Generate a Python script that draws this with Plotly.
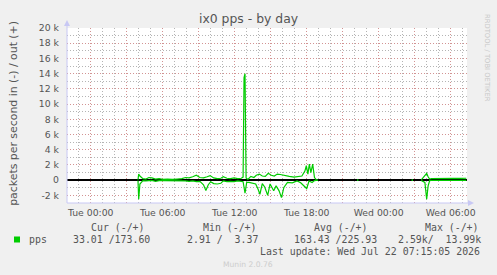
import plotly.graph_objects as go

# ---------------- data (hours relative to Tue 00:00) ----------------
x_range = [-1.975, 31.36]

t_out = [3.94, 4.00, 4.10, 4.35, 4.60, 4.85, 5.10, 5.40, 5.70, 6.00,
         6.40, 6.80, 7.20, 7.60, 7.90, 8.20, 8.50, 8.80, 9.10, 9.40,
         9.70, 9.95, 10.25, 10.55, 10.85, 11.05, 11.35, 11.65, 11.95, 12.25,
         12.55, 12.70, 12.78, 12.86, 12.95, 13.10, 13.35, 13.60, 13.80, 14.05,
         14.30, 14.55, 14.80, 15.05, 15.30, 15.55, 15.80, 16.15, 16.55, 16.95,
         17.35, 17.60, 17.85, 17.97, 18.10, 18.22, 18.35, 18.50, 18.65, 18.80,
         18.95, 19.00, 22.20, 22.30, 22.35, 26.75, 26.85, 26.90, 27.55, 27.70,
         27.85, 28.00, 28.12, 28.25, 28.40, 29.00, 29.60, 30.20, 30.80, 31.30]
out_pps = [50, 800, 550, 200, 150, 350, 300, 150, 200, 100,
           150, 100, 150, 200, 350, 300, 450, 650, 350, 300,
           450, 600, 300, 200, 250, 450, 250, 200, 300, 200,
           250, 400, 13500, 13990, 300, 100, 500, 350, 650, 800,
           550, 500, 900, 650, 550, 800, 750, 600, 500, 400,
           500, 550, 1200, 1900, 800, 2100, 1000, 2100, 350, 50,
           20, None, 50, 50, None, 50, 50, None, 50, 300,
           650, 900, 450, 150, 220, 250, 220, 250, 230, 250]

t_in = [3.94, 4.00, 4.10, 4.35, 4.60, 4.85, 5.10, 5.40, 5.70, 6.00,
        6.50, 7.00, 7.60, 7.90, 8.20, 8.50, 8.80, 9.10, 9.40, 9.60,
        9.80, 10.00, 10.25, 10.55, 10.85, 11.05, 11.35, 11.65, 11.95, 12.25,
        12.55, 12.70, 12.86, 13.00, 13.20, 13.50, 13.75, 13.95, 14.10, 14.30,
        14.50, 14.75, 14.95, 15.25, 15.45, 15.70, 15.90, 16.10, 16.40, 16.80,
        17.20, 17.50, 17.75, 18.00, 18.20, 18.45, 18.65, 18.95, 19.00,
        22.20, 22.30, 22.35, 26.75, 26.85, 26.90,
        27.55, 27.85, 28.00, 28.12, 28.25, 28.40, 29.50, 30.50, 31.30]
in_pps = [50, 2500, 500, 50, 100, 100, 20, 150, 50, 50,
          40, 50, 60, 100, 150, 100, 200, 150, 600, 1350,
          600, 200, 450, 500, 400, 100, 200, 150, 200, 100,
          150, 200, 1700, 300, 300, 400, 500, 1200, 1850, 450,
          900, 2000, 500, 1400, 750, 1400, 2300, 950, 300, 350,
          100, 350, 750, 1100, 100, 300, 50, 10, None,
          20, 20, None, 20, 20, None,
          50, 300, 2500, 750, 50, 20, 20, 20, 20]

y_tick_vals = [-2000, 0, 2000, 4000, 6000, 8000, 10000, 12000, 14000, 16000, 18000, 20000]
y_tick_text = ["-2 k", "0", "2 k", "4 k", "6 k", "8 k", "10 k", "12 k", "14 k", "16 k", "18 k", "20 k"]
x_tick_vals = [0, 3, 6, 9, 12, 15, 18, 21, 24, 27, 30]
x_tick_text = ["Tue 00:00", "", "Tue 06:00", "", "Tue 12:00", "", "Tue 18:00", "", "Wed 00:00", "", "Wed 06:00"]

title_text = "ix0 pps - by day"
y_title = "packets per second in (-) / out (+)"
legend_headers = ["Cur (-/+)", "Min (-/+)", "Avg (-/+)", "Max (-/+)"]
legend_values = ["33.01 /173.60", "2.91 /  3.37", "163.43 /225.93", "2.59k/  13.99k"]
series_name = "pps"
last_update = "Last update: Wed Jul 22 07:15:05 2026"
munin_version = "Munin 2.0.76"
watermark = "RRDTOOL / TOBI OETIKER"

# ---------------- layout helpers ----------------
W, H = 497, 275
L, R, T, B = 67, 467, 28, 203


def px(x):
    return (x - L) / (R - L)


def py(y):
    return (B - y) / (B - T)


GREEN = "#00CC00"
TXT = "#555555"
SANS = "DejaVu Sans"
MONO = "DejaVu Sans Mono"
MAJOR = "rgba(235,120,120,0.55)"
MINOR = "rgba(140,140,140,0.65)"

fig = go.Figure()
fig.add_trace(go.Scatter(x=t_out, y=out_pps, mode="lines", connectgaps=False,
                         line=dict(color=GREEN, width=1.2), hoverinfo="skip"))
fig.add_trace(go.Scatter(x=t_in, y=[None if v is None else -v for v in in_pps],
                         mode="lines", connectgaps=False,
                         line=dict(color=GREEN, width=1.2), hoverinfo="skip"))

fig.update_layout(
    width=W, height=H, autosize=False,
    margin=dict(l=L, r=W - R, t=T, b=H - B, pad=0),
    paper_bgcolor="#F0F0F0", plot_bgcolor="#FFFFFF",
    showlegend=False,
    font=dict(family=SANS, size=9.3, color=TXT),
)

fig.update_xaxes(
    range=x_range, tickvals=x_tick_vals, ticktext=x_tick_text,
    showgrid=True, gridcolor=MAJOR, griddash="1px,2px", gridwidth=1,
    minor=dict(dtick=1, tick0=0, showgrid=True, gridcolor=MINOR,
               griddash="1px,2px", gridwidth=1, ticks=""),
    ticks="", zeroline=False, showline=False,
    tickfont=dict(family=SANS, size=9.3, color=TXT),
    ticklabelstandoff=3,
)
fig.update_yaxes(
    range=[-3000, 20000], tickvals=y_tick_vals, ticktext=y_tick_text,
    showgrid=True, gridcolor=MAJOR, griddash="1px,2px", gridwidth=1,
    minor=dict(dtick=1000, tick0=0, showgrid=True, gridcolor=MINOR,
               griddash="1px,2px", gridwidth=1, ticks=""),
    ticks="", showline=False,
    zeroline=True, zerolinecolor="#000000", zerolinewidth=1.7,
    tickfont=dict(family=SANS, size=9.3, color=TXT),
    ticklabelstandoff=7,
)

AX = "#C8C8F4"
shapes = [
    dict(type="line", xref="paper", yref="paper", x0=px(L), x1=px(L), y0=py(B), y1=py(24),
         line=dict(color=AX, width=1)),
    dict(type="path", xref="paper", yref="paper",
         path=f"M {px(L-3)} {py(26)} L {px(L+3)} {py(26)} L {px(L)} {py(20)} Z",
         fillcolor=AX, line=dict(width=0)),
    dict(type="line", xref="paper", yref="paper", x0=px(L), x1=px(470), y0=py(B), y1=py(B),
         line=dict(color=AX, width=1)),
    dict(type="path", xref="paper", yref="paper",
         path=f"M {px(468)} {py(B-3)} L {px(468)} {py(B+3)} L {px(474)} {py(B)} Z",
         fillcolor=AX, line=dict(width=0)),
    dict(type="rect", xref="paper", yref="paper", x0=px(14), x1=px(20), y0=py(236.5), y1=py(242.5),
         fillcolor=GREEN, line=dict(width=0)),
]
fig.update_layout(shapes=shapes)

ann = []


def add_text(text, x, y, xanchor="left", size=9.9, family=MONO, color=TXT, angle=0):
    ann.append(dict(text=text, x=px(x), y=py(y), xref="paper", yref="paper",
                    xanchor=xanchor, yanchor="middle", showarrow=False, textangle=angle,
                    font=dict(family=family, size=size, color=color)))


add_text(title_text, 248.5, 18.5, "center", 12.4, SANS, TXT)
add_text(y_title, 13.3, 113.5, "center", 10.9, SANS, TXT, -90)
add_text(watermark, 487.5, 57.5, "center", 6.8, SANS, "#C8C8C8", 90)

header_x = [89.3, 200.7, 311.7, 422.7]
value_right = [152, 260, 379, 482.7]
for h, xh in zip(legend_headers, header_x):
    add_text(h, xh, 227.7, "left")
add_text(series_name, 26.7, 239.3, "left")
for v, xr in zip(legend_values, value_right):
    add_text(v.replace(" ", "\u00a0"), xr, 239.3, "right")
add_text(last_update, 482.3, 251.7, "right")
add_text(munin_version, 247.7, 264.3, "center", 7.6, SANS, "#CDCDCD")

fig.update_layout(annotations=ann)

fig.write_html("out.html")
